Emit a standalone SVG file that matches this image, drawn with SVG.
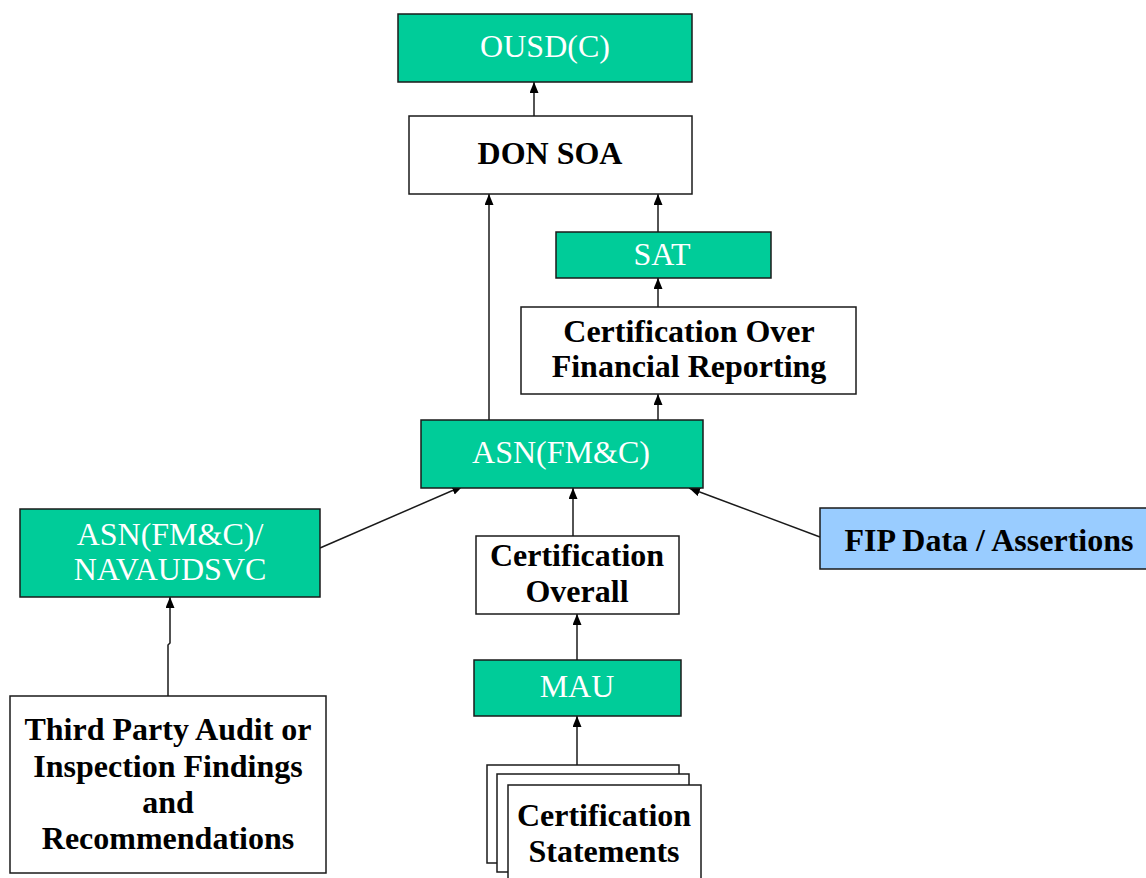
<svg xmlns="http://www.w3.org/2000/svg" width="1146" height="878" viewBox="0 0 1146 878">
<style>
.box{stroke:#1a1a1a;stroke-width:1.5}
.g{fill:#00CC99}
.w{fill:#ffffff}
.b{fill:#99CCFF}
.tw{font-family:"Liberation Serif",serif;font-size:32px;fill:#ffffff;text-anchor:middle}
.tb{font-family:"Liberation Serif",serif;font-size:32px;font-weight:bold;fill:#000000;text-anchor:middle}
.c{fill:none;stroke:#1a1a1a;stroke-width:1.5}
</style>
<defs>
<marker id="ah" markerUnits="userSpaceOnUse" markerWidth="12" markerHeight="10" refX="11" refY="4.5" orient="auto">
<path d="M0,0 L11,4.5 L0,9 z" fill="#000"/>
</marker>
</defs>
<rect width="1146" height="878" fill="#ffffff"/>
<g id="connectors">
<line class="c" x1="534" y1="116" x2="534" y2="82" marker-end="url(#ah)"/>
<line class="c" x1="489" y1="420" x2="489" y2="194" marker-end="url(#ah)"/>
<line class="c" x1="658" y1="232" x2="658" y2="194" marker-end="url(#ah)"/>
<line class="c" x1="658" y1="307" x2="658" y2="278" marker-end="url(#ah)"/>
<line class="c" x1="658" y1="420" x2="658" y2="394" marker-end="url(#ah)"/>
<line class="c" x1="573" y1="536" x2="573" y2="488" marker-end="url(#ah)"/>
<line class="c" x1="320" y1="548" x2="463" y2="486" marker-end="url(#ah)"/>
<line class="c" x1="820" y1="537" x2="689" y2="488" marker-end="url(#ah)"/>
<polyline class="c" points="168,697 168,645 170,643 170,597" marker-end="url(#ah)"/>
<line class="c" x1="577" y1="660" x2="577" y2="614" marker-end="url(#ah)"/>
<line class="c" x1="577" y1="765" x2="577" y2="716" marker-end="url(#ah)"/>
</g>
<g id="ousd">
<rect class="box g" x="398" y="14" width="294" height="68"/>
<text class="tw" x="545" y="57">OUSD(C)</text>
</g>
<g id="donsoa">
<rect class="box w" x="409" y="116" width="283" height="78"/>
<text class="tb" x="550" y="164">DON SOA</text>
</g>
<g id="sat">
<rect class="box g" x="556" y="232" width="215" height="46"/>
<text class="tw" x="662" y="265">SAT</text>
</g>
<g id="cofr">
<rect class="box w" x="521" y="307" width="335" height="87"/>
<text class="tb" x="689" y="342">Certification Over</text>
<text class="tb" x="689" y="377">Financial Reporting</text>
</g>
<g id="asn">
<rect class="box g" x="421" y="420" width="282" height="68"/>
<text class="tw" x="561" y="463">ASN(FM&amp;C)</text>
</g>
<g id="navaudsvc">
<rect class="box g" x="20" y="509" width="300" height="88"/>
<text class="tw" x="170" y="545">ASN(FM&amp;C)/</text>
<text class="tw" x="170" y="580">NAVAUDSVC</text>
</g>
<g id="fip">
<rect class="box b" x="820" y="508" width="330" height="61"/>
<text class="tb" x="989" y="551">FIP Data / Assertions</text>
</g>
<g id="certoverall">
<rect class="box w" x="476" y="536" width="203" height="78"/>
<text class="tb" x="577" y="566">Certification</text>
<text class="tb" x="577" y="602">Overall</text>
</g>
<g id="mau">
<rect class="box g" x="474" y="660" width="207" height="56"/>
<text class="tw" x="577" y="697">MAU</text>
</g>
<g id="thirdparty">
<rect class="box w" x="10" y="696" width="316" height="177"/>
<text class="tb" x="168" y="740">Third Party Audit or</text>
<text class="tb" x="168" y="777">Inspection Findings</text>
<text class="tb" x="168" y="813">and</text>
<text class="tb" x="168" y="849">Recommendations</text>
</g>
<g id="statements">
<rect class="box w" x="487" y="765" width="192" height="98"/>
<rect class="box w" x="497" y="774" width="192" height="98"/>
<rect class="box w" x="508" y="785" width="193" height="100"/>
<text class="tb" x="604" y="826">Certification</text>
<text class="tb" x="604" y="862">Statements</text>
</g>
</svg>
